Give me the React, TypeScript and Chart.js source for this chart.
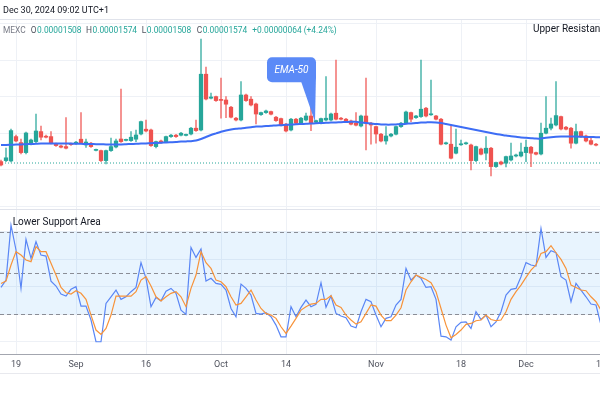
import React, { useEffect, useRef } from "react";
import { Chart, registerables } from "chart.js";

Chart.register(...registerables);

// ---------- texts ----------
const headerText = "Dec 30, 2024 09:02 UTC+1";
const symbolLabel = "MEXC";
const legendKeys = ["O", "H", "L", "C"];
const legendValues = ["0.00001508", "0.00001574", "0.00001508", "0.00001574"];
const changeText = "+0.00000064 (+4.24%)";
const upperLabel = "Upper Resistance Area";
const lowerLabel = "Lower Support Area";
const emaLabel = "EMA-50";

// ---------- x axis (candle index) ----------
const xTickIndex = [3, 15, 29, 44, 57, 75, 92, 105, 120];
const xTickLabels = ["19", "Sep", "16", "Oct", "14", "Nov", "18", "Dec", "16"];

// ---------- prices (units of 1e-8) ----------
const openP = [
  1505, 1510, 1508, 1630, 1600, 1550, 1593, 1605, 1655, 1632,
  1630, 1593, 1583, 1580, 1595, 1595, 1617, 1588, 1597, 1561,
  1560, 1510, 1560, 1578, 1618, 1611, 1610, 1617, 1643, 1667,
  1663, 1580, 1608, 1605, 1630, 1637, 1637, 1636, 1643, 1672,
  1663, 1942, 1822, 1830, 1816, 1813, 1777, 1722, 1713, 1838,
  1817, 1793, 1740, 1750, 1755, 1727, 1720, 1692, 1663, 1717,
  1697, 1713, 1733, 1702, 1697, 1713, 1713, 1747, 1722, 1717,
  1708, 1697, 1683, 1733, 1697, 1680, 1642, 1608, 1633, 1642,
  1680, 1697, 1750, 1725, 1730, 1772, 1739, 1733, 1717, 1594,
  1592, 1547, 1589, 1594, 1588, 1510, 1568, 1547, 1572, 1480,
  1503, 1497, 1513, 1533, 1533, 1550, 1577, 1550, 1543, 1647,
  1672, 1688, 1730, 1677, 1672, 1597, 1655, 1633, 1610, 1592,
];
const highP = [
  1513, 1572, 1668, 1638, 1618, 1653, 1618, 1742, 1683, 1638,
  1655, 1598, 1588, 1725, 1598, 1606, 1750, 1618, 1601, 1568,
  1563, 1563, 1622, 1618, 1868, 1618, 1655, 1663, 1708, 1713,
  1668, 1608, 1613, 1633, 1641, 1641, 1651, 1643, 1676, 1713,
  2117, 1977, 1847, 1833, 1922, 1830, 1781, 1726, 1905, 1843,
  1830, 1798, 1753, 1763, 1758, 1731, 1723, 1696, 1721, 1721,
  1726, 1747, 1800, 1713, 1723, 1930, 1748, 2013, 1726, 1721,
  1713, 1750, 1738, 1922, 1701, 1683, 1646, 1680, 1646, 1683,
  1701, 1758, 1753, 1736, 2013, 1776, 1913, 1736, 1721, 1603,
  1688, 1667, 1613, 1603, 1593, 1583, 1573, 1630, 1576, 1503,
  1508, 1533, 1597, 1543, 1597, 1613, 1581, 1553, 1697, 1830,
  1722, 1905, 1733, 1681, 1676, 1693, 1658, 1638, 1630, 1596,
];
const lowP = [
  1483, 1505, 1503, 1603, 1543, 1543, 1588, 1598, 1613, 1623,
  1593, 1581, 1573, 1568, 1586, 1591, 1596, 1576, 1576, 1558,
  1505, 1493, 1556, 1573, 1601, 1608, 1606, 1605, 1638, 1653,
  1581, 1573, 1596, 1601, 1626, 1626, 1633, 1633, 1638, 1656,
  1658, 1813, 1818, 1806, 1722, 1725, 1723, 1708, 1708, 1806,
  1783, 1693, 1736, 1746, 1738, 1706, 1683, 1653, 1658, 1693,
  1693, 1708, 1660, 1698, 1693, 1708, 1708, 1713, 1713, 1703,
  1688, 1683, 1678, 1563, 1592, 1597, 1603, 1592, 1628, 1638,
  1676, 1693, 1705, 1721, 1726, 1728, 1736, 1713, 1588, 1591,
  1518, 1543, 1586, 1591, 1463, 1505, 1538, 1513, 1433, 1476,
  1488, 1478, 1508, 1528, 1528, 1505, 1480, 1538, 1538, 1643,
  1663, 1683, 1663, 1663, 1572, 1593, 1626, 1603, 1588, 1583,
];
const closeP = [
  1488, 1524, 1660, 1608, 1550, 1648, 1613, 1658, 1627, 1627,
  1597, 1585, 1577, 1572, 1590, 1602, 1600, 1603, 1580, 1566,
  1510, 1560, 1580, 1608, 1605, 1616, 1627, 1638, 1705, 1658,
  1585, 1605, 1600, 1630, 1637, 1630, 1647, 1641, 1672, 1660,
  1942, 1818, 1828, 1810, 1811, 1792, 1727, 1713, 1838, 1810,
  1788, 1743, 1750, 1758, 1742, 1710, 1687, 1658, 1717, 1697,
  1722, 1733, 1697, 1710, 1720, 1722, 1743, 1717, 1717, 1708,
  1692, 1687, 1733, 1697, 1688, 1643, 1608, 1633, 1642, 1680,
  1697, 1753, 1717, 1733, 1767, 1733, 1744, 1717, 1592, 1599,
  1522, 1577, 1594, 1599, 1510, 1580, 1542, 1572, 1480, 1500,
  1493, 1530, 1533, 1538, 1553, 1577, 1547, 1542, 1647, 1672,
  1693, 1735, 1668, 1667, 1597, 1655, 1630, 1608, 1592, 1587,
];
const ema50 = [
  1588, 1588, 1589, 1590, 1591, 1592, 1593, 1594, 1595, 1595,
  1596, 1596, 1596, 1595, 1595, 1594, 1594, 1593, 1593, 1592,
  1592, 1591, 1591, 1591, 1591, 1592, 1593, 1594, 1595, 1596,
  1597, 1598, 1599, 1601, 1602, 1603, 1605, 1606, 1607, 1610,
  1618, 1628, 1638, 1646, 1654, 1660, 1665, 1669, 1671, 1674,
  1677, 1680, 1681, 1683, 1684, 1686, 1687, 1689, 1690, 1692,
  1693, 1694, 1695, 1697, 1698, 1699, 1700, 1701, 1702, 1703,
  1704, 1704, 1700, 1698, 1695, 1693, 1691, 1690, 1690, 1691,
  1692, 1694, 1696, 1698, 1700, 1701, 1702, 1701, 1698, 1693,
  1688, 1683, 1678, 1673, 1668, 1663, 1658, 1653, 1648, 1643,
  1639, 1635, 1632, 1629, 1626, 1624, 1622, 1620, 1620, 1624,
  1627, 1629, 1630, 1630, 1630, 1630, 1629, 1628, 1628, 1627,
  1627,
];
const lastPriceLine = 1498;
const priceGrid = [1281, 1464, 1647, 1830, 2013, 2196];
const PRICE_MIN = 1268;
const PRICE_MAX = 2213;
const emaLabelAt = [62.8, 1704];

// ---------- Stochastic RSI ----------
const stochK = [
  39.5, 44.8, 84.8, 66.7, 38.8, 74.4, 60.6, 72.7, 63.0, 62.3,
  44.1, 40.5, 34.7, 33.2, 38.1, 40.0, 25.9, 25.9, 15.8, 0.0,
  0.0, 27.9, 32.7, 37.6, 30.8, 32.7, 36.4, 39.5, 57.5, 46.1,
  25.5, 32.2, 29.8, 36.8, 38.8, 35.2, 23.0, 19.9, 68.6, 61.3,
  67.4, 44.1, 46.1, 42.4, 41.7, 37.6, 24.2, 18.2, 41.9, 38.8,
  33.9, 20.6, 20.1, 21.1, 18.2, 12.1, 3.6, 3.6, 25.5, 18.2,
  25.0, 30.3, 25.5, 27.2, 42.9, 25.0, 33.2, 20.6, 18.7, 17.5,
  11.4, 10.2, 21.8, 30.8, 29.1, 19.4, 10.9, 17.0, 18.2, 26.7,
  30.8, 53.3, 44.8, 48.5, 46.1, 39.5, 40.0, 30.8, 4.1, 3.6,
  1.2, 10.9, 14.1, 14.5, 9.7, 21.8, 16.2, 19.4, 10.9, 14.5,
  21.8, 33.9, 38.1, 38.8, 47.3, 57.5, 55.8, 55.0, 82.4, 61.3,
  66.2, 64.7, 47.3, 44.8, 29.1, 42.4, 37.6, 32.7, 27.4, 26.7,
  12.1,
];
const stochD = [
  42.4, 44.1, 55.8, 65.5, 63.0, 59.4, 58.2, 69.1, 65.5, 65.5,
  57.0, 48.5, 39.5, 35.6, 34.7, 37.1, 35.2, 30.8, 19.4, 8.5,
  5.3, 9.7, 19.4, 33.2, 33.2, 33.2, 33.2, 36.4, 44.8, 47.3,
  40.5, 32.7, 29.6, 32.7, 35.2, 36.4, 32.7, 25.5, 38.8, 48.5,
  65.5, 57.5, 53.3, 44.8, 43.6, 40.0, 32.7, 26.7, 27.9, 32.7,
  37.6, 30.3, 24.2, 20.6, 19.4, 17.0, 10.9, 6.1, 11.4, 17.0,
  23.0, 25.5, 27.4, 27.9, 30.8, 30.8, 33.5, 26.7, 25.0, 19.4,
  15.8, 12.8, 14.5, 20.6, 26.7, 25.9, 19.4, 15.3, 15.3, 19.4,
  24.7, 37.6, 43.6, 48.5, 46.8, 45.3, 42.9, 36.4, 24.2, 12.1,
  2.9, 5.3, 8.5, 12.6, 13.3, 15.3, 15.8, 19.4, 16.2, 15.3,
  15.8, 21.8, 30.8, 36.4, 41.2, 46.8, 52.1, 55.8, 64.2, 65.5,
  69.8, 64.7, 59.9, 53.3, 41.2, 39.5, 37.6, 37.1, 32.7, 29.1,
  23.0,
];
const oscGrid = [0, 20, 40, 60, 80];
const oscBand = [20, 80];
const oscLevels = [80, 50, 20];
const OSC_MIN = -8.9;
const OSC_MAX = 96.5;

// ---------- styles ----------
const FONT = "Roboto, 'Noto Sans', sans-serif";
const UP = "#26a69a";
const DOWN = "#ef5350";
const UP_WICK = "rgba(38,166,154,0.75)";
const DOWN_WICK = "rgba(239,83,80,0.75)";
const GRID = "#eef1f6";

const isUp = (i: number) => closeP[i] >= openP[i];

const overlay = {
  id: "overlay",
  beforeDatasetsDraw(chart: any) {
    const { ctx, chartArea } = chart;
    const yo = chart.scales.yOsc;
    ctx.save();
    const t = yo.getPixelForValue(oscBand[1]);
    const b = yo.getPixelForValue(oscBand[0]);
    ctx.fillStyle = "rgba(33,150,243,0.1)";
    ctx.fillRect(chartArea.left, t, chartArea.right - chartArea.left, b - t);
    ctx.strokeStyle = "#8a8d96";
    ctx.lineWidth = 1;
    ctx.setLineDash([4, 3]);
    for (const v of oscLevels) {
      const y = Math.round(yo.getPixelForValue(v)) + 0.5;
      ctx.beginPath();
      ctx.moveTo(chartArea.left, y);
      ctx.lineTo(chartArea.right, y);
      ctx.stroke();
    }
    ctx.restore();
  },
  afterDraw(chart: any) {
    const { ctx, chartArea, width } = chart;
    const yp = chart.scales.yPrice;
    const xs = chart.scales.x;
    ctx.save();
    // lines
    ctx.lineWidth = 1;
    ctx.strokeStyle = "#e0e3eb";
    ctx.beginPath();
    ctx.moveTo(0, 19.5);
    ctx.lineTo(width, 19.5);
    ctx.stroke();
    ctx.beginPath();
    const sep = Math.round(yp.bottom) + 0.5;
    ctx.moveTo(0, sep);
    ctx.lineTo(width, sep);
    ctx.stroke();
    ctx.strokeStyle = "#a3a6af";
    ctx.beginPath();
    ctx.moveTo(0, chartArea.bottom + 0.5);
    ctx.lineTo(width, chartArea.bottom + 0.5);
    ctx.stroke();
    ctx.strokeStyle = "#e8e9ee";
    ctx.beginPath();
    ctx.moveTo(0, 373.5);
    ctx.lineTo(width, 373.5);
    ctx.stroke();

    // header
    ctx.textBaseline = "middle";
    ctx.textAlign = "left";
    ctx.font = `9px ${FONT}`;
    ctx.fillStyle = "#131722";
    ctx.fillText(headerText, 3, 10.5);

    // legend
    ctx.font = `8.4px ${FONT}`;
    ctx.fillStyle = "#787b86";
    ctx.fillText(symbolLabel, 3, 31);
    const keyX = [30.7, 86, 141.7, 196.7];
    legendKeys.forEach((k, i) => {
      ctx.fillStyle = "#50535e";
      ctx.fillText(k, keyX[i], 31);
      const w = ctx.measureText(k).width;
      ctx.fillStyle = UP;
      ctx.fillText(legendValues[i], keyX[i] + w + 0.5, 31);
    });
    ctx.fillStyle = UP;
    ctx.fillText(changeText, 252.3, 31);

    // pane labels
    ctx.font = `10px ${FONT}`;
    ctx.fillStyle = "#131722";
    ctx.fillText(upperLabel, 533, 29.5);
    ctx.fillText(lowerLabel, 12.7, 222);

    // EMA callout
    const tx = xs.getPixelForValue(emaLabelAt[0]);
    const ty = yp.getPixelForValue(emaLabelAt[1]);
    const R = tx + 1;
    const L = tx - 48;
    const B = ty - 39.5;
    const T = ty - 64.5;
    ctx.fillStyle = "#5b8af7";
    ctx.beginPath();
    (ctx as any).roundRect(L, T, R - L, B - T, 5);
    ctx.fill();
    ctx.beginPath();
    ctx.moveTo(R - 15, B - 1);
    ctx.lineTo(tx, ty);
    ctx.lineTo(R, B - 8);
    ctx.closePath();
    ctx.fill();
    ctx.fillStyle = "#ffffff";
    ctx.textAlign = "center";
    ctx.font = `italic 10px ${FONT}`;
    ctx.fillText(emaLabel, (L + R) / 2, (T + B) / 2 + 0.5);
    ctx.restore();
  },
};

export default function App() {
  const ref = useRef<HTMLCanvasElement>(null);
  useEffect(() => {
    const canvas = ref.current;
    if (!canvas) return;
    const idx = openP.map((_, i) => i);
    const chart = new Chart(canvas, {
      type: "bar",
      data: {
        datasets: [
          {
            type: "line",
            label: "EMA 50",
            data: ema50.map((v, i) => ({ x: i, y: v })),
            yAxisID: "yPrice",
            borderColor: "#3d6df5",
            borderWidth: 2,
            pointRadius: 0,
            tension: 0.2,
            order: 0,
          } as any,
          {
            type: "bar",
            label: "body",
            data: idx.map((i) => ({ x: i, y: [openP[i], closeP[i]] })),
            yAxisID: "yPrice",
            backgroundColor: idx.map((i) => (isUp(i) ? UP : DOWN)),
            borderWidth: 0,
            barThickness: 3.6,
            minBarLength: 1,
            grouped: false,
            order: 1,
          } as any,
          {
            type: "bar",
            label: "wick",
            data: idx.map((i) => ({ x: i, y: [lowP[i], highP[i]] })),
            yAxisID: "yPrice",
            backgroundColor: idx.map((i) => (isUp(i) ? UP_WICK : DOWN_WICK)),
            borderWidth: 0,
            barThickness: 1,
            grouped: false,
            order: 2,
          } as any,
          {
            type: "line",
            label: "last",
            data: [
              { x: -1, y: lastPriceLine },
              { x: 123, y: lastPriceLine },
            ],
            yAxisID: "yPrice",
            borderColor: UP,
            borderWidth: 1,
            borderDash: [1, 2],
            pointRadius: 0,
            order: 3,
          } as any,
          {
            type: "line",
            label: "%D",
            data: stochD.map((v, i) => ({ x: i, y: v })),
            yAxisID: "yOsc",
            borderColor: "#f7933a",
            borderWidth: 1.2,
            pointRadius: 0,
            order: 4,
          } as any,
          {
            type: "line",
            label: "%K",
            data: stochK.map((v, i) => ({ x: i, y: v })),
            yAxisID: "yOsc",
            borderColor: "#5a86f5",
            borderWidth: 1.2,
            pointRadius: 0,
            order: 5,
          } as any,
        ],
      },
      options: {
        animation: false,
        responsive: false,
        devicePixelRatio: 1,
        layout: { padding: { top: 20, bottom: 27, left: 0, right: 0 } },
        plugins: {
          legend: { display: false },
          tooltip: { enabled: false },
          title: { display: false },
        },
        scales: {
          x: {
            type: "linear",
            position: "bottom",
            offset: false,
            min: -0.2,
            max: 122.2,
            afterBuildTicks: (s: any) => {
              s.ticks = xTickIndex.map((v) => ({ value: v }));
            },
            afterFit: (s: any) => {
              s.height = 19;
            },
            ticks: {
              autoSkip: false,
              maxRotation: 0,
              minRotation: 0,
              padding: 5,
              color: "#50535e",
              font: { family: FONT, size: 9 },
              callback: (_v: any, i: number) => xTickLabels[i] ?? "",
            },
            grid: { color: GRID, drawTicks: false, lineWidth: 1, offset: false },
            border: { display: false },
          },
          yPrice: {
            type: "linear",
            position: "right",
            stack: "panes",
            stackWeight: 189,
            min: PRICE_MIN,
            max: PRICE_MAX,
            afterBuildTicks: (s: any) => {
              s.ticks = priceGrid.map((v) => ({ value: v }));
            },
            afterFit: (s: any) => {
              s.width = 0;
            },
            ticks: { display: false },
            grid: { color: GRID, drawTicks: false },
            border: { display: false },
          },
          yOsc: {
            type: "linear",
            position: "right",
            stack: "panes",
            stackWeight: 145,
            min: OSC_MIN,
            max: OSC_MAX,
            afterBuildTicks: (s: any) => {
              s.ticks = oscGrid.map((v) => ({ value: v }));
            },
            afterFit: (s: any) => {
              s.width = 0;
            },
            ticks: { display: false },
            grid: { color: GRID, drawTicks: false },
            border: { display: false },
          },
        },
      } as any,
      plugins: [overlay],
    });
    return () => chart.destroy();
  }, []);

  return (
    <div
      style={{
        position: "fixed",
        left: 0,
        top: 0,
        width: 600,
        height: 400,
        overflow: "hidden",
        background: "#ffffff",
      }}
    >
      <canvas
        ref={ref}
        width={612}
        height={400}
        style={{ display: "block", width: 612, height: 400 }}
      />
    </div>
  );
}
